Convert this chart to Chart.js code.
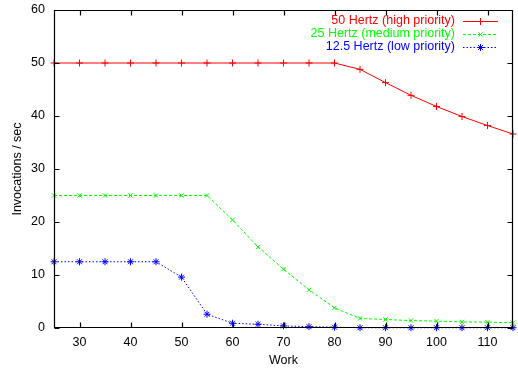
<!DOCTYPE html>
<html>
<head>
<meta charset="utf-8">
<script src="https://cdn.jsdelivr.net/npm/chart.js@4/dist/chart.umd.min.js"></script>
<style>
  html, body { margin: 0; padding: 0; background: #fff; }
  #wrap { width: 518px; height: 369px; }
</style>
</head>
<body>
<div id="wrap"><canvas id="c" width="518" height="369"></canvas></div>
<script>
const work = [25, 30, 35, 40, 45, 50, 55, 60, 65, 70, 75, 80, 85, 90, 95, 100, 105, 110, 115];
const high = [50, 50, 50, 50, 50, 50, 50, 50, 50, 50, 50, 50, 48.8, 46.3, 43.9, 41.8, 39.9, 38.2, 36.6];
const medium = [25, 25, 25, 25, 25, 25, 25, 20.4, 15.3, 11.1, 7.2, 3.8, 1.8, 1.6, 1.4, 1.3, 1.15, 1.1, 1.0];
const low = [12.5, 12.5, 12.5, 12.5, 12.5, 9.6, 2.6, 0.9, 0.7, 0.4, 0.25, 0.15, 0.05, 0.05, 0.05, 0.05, 0.05, 0.05, 0.05];
const xTicks = [30, 40, 50, 60, 70, 80, 90, 100, 110];
const yTicks = [0, 10, 20, 30, 40, 50, 60];
const labels = ["50 Hertz (high priority)", "25 Hertz (medium priority)", "12.5 Hertz (low priority)"];

const FONT = "'Liberation Sans', Arial, Helvetica, sans-serif";
const pts = ys => work.map((x, i) => ({ x: x, y: ys[i] }));

// gnuplot style frame with inward ticks on all four sides
const frame = {
  id: 'frame',
  afterDraw(chart) {
    const { ctx, chartArea: a, scales } = chart;
    const L = Math.round(a.left) + 0.5, R = Math.round(a.right) - 0.5;
    const T = Math.round(a.top) + 0.5, B = Math.round(a.bottom) - 0.5;
    ctx.save();
    ctx.strokeStyle = '#000';
    ctx.lineWidth = 1.2;
    ctx.beginPath();
    for (const v of xTicks) {
      const px = Math.round(scales.x.getPixelForValue(v)) + 0.5;
      ctx.moveTo(px, B); ctx.lineTo(px, B - 5);
      ctx.moveTo(px, T); ctx.lineTo(px, T + 5);
    }
    for (const v of yTicks) {
      const py = Math.round(scales.y.getPixelForValue(v)) + 0.5;
      ctx.moveTo(L, py); ctx.lineTo(L + 5, py);
      ctx.moveTo(R, py); ctx.lineTo(R - 5, py);
    }
    ctx.rect(L, T, R - L, B - T);
    ctx.stroke();
    ctx.restore();
  }
};

// key in the top right corner: right aligned text, line sample on the right
const key = {
  id: 'key',
  afterDraw(chart) {
    const { ctx } = chart;
    ctx.save();
    ctx.font = '12.5px ' + FONT;
    ctx.textAlign = 'right';
    ctx.textBaseline = 'middle';
    chart.data.datasets.forEach((ds, i) => {
      const y = 21 + i * 13;
      ctx.fillStyle = ds.borderColor;
      ctx.fillText(ds.label, 455, y);
      ctx.strokeStyle = ds.borderColor;
      ctx.lineWidth = 1;
      ctx.setLineDash(ds.borderDash || []);
      ctx.beginPath();
      ctx.moveTo(463, y + 0.5); ctx.lineTo(498, y + 0.5);
      ctx.stroke();
      ctx.setLineDash([]);
      Chart.helpers.drawPoint(ctx, {
        pointStyle: ds.pointStyle, radius: ds.pointRadius, rotation: 0, borderWidth: 1
      }, 480.5, y + 0.5);
    });
    ctx.restore();
  }
};

const noPad = s => { s.paddingTop = 0; s.paddingBottom = 0; s.paddingLeft = 0; s.paddingRight = 0; };

new Chart(document.getElementById('c'), {
  type: 'line',
  plugins: [frame, key],
  data: {
    datasets: [
      { label: labels[0], data: pts(high), borderColor: '#ff0000', backgroundColor: '#ff0000',
        borderWidth: 1, pointStyle: 'cross', pointRadius: 3.5, pointBorderWidth: 1, clip: false },
      { label: labels[1], data: pts(medium), borderColor: '#00ff00', backgroundColor: '#00ff00',
        borderWidth: 1, borderDash: [3, 2], pointStyle: 'crossRot', pointRadius: 3, pointBorderWidth: 1, clip: false },
      { label: labels[2], data: pts(low), borderColor: '#0000ff', backgroundColor: '#0000ff',
        borderWidth: 1, borderDash: [1.5, 2], pointStyle: 'star', pointRadius: 3.5, pointBorderWidth: 1, clip: false }
    ]
  },
  options: {
    responsive: false,
    animation: false,
    layout: { padding: { top: 10, right: 4, left: 0, bottom: 0 } },
    plugins: { legend: { display: false }, tooltip: { enabled: false } },
    elements: { line: { tension: 0 } },
    scales: {
      x: {
        type: 'linear', min: 25, max: 115,
        afterBuildTicks: s => { s.ticks = xTicks.map(v => ({ value: v })); },
        afterFit: s => { s.height = 41; noPad(s); },
        grid: { display: false, drawTicks: false },
        border: { display: false },
        ticks: { padding: 7, color: '#000', font: { family: FONT, size: 12.5 } },
        title: { display: true, text: 'Work', color: '#000', padding: { top: 0, bottom: 1 },
          font: { family: FONT, size: 12.5 } }
      },
      y: {
        type: 'linear', min: 0, max: 60,
        afterBuildTicks: s => { s.ticks = yTicks.map(v => ({ value: v })); },
        afterFit: s => { s.width = 54; noPad(s); },
        grid: { display: false, drawTicks: false },
        border: { display: false },
        ticks: { padding: 9, color: '#000', font: { family: FONT, size: 12.5 } },
        title: { display: true, text: 'Invocations / sec', color: '#000', padding: { top: 10, bottom: 0 },
          font: { family: FONT, size: 12.5 } }
      }
    }
  }
});
</script>
</body>
</html>
